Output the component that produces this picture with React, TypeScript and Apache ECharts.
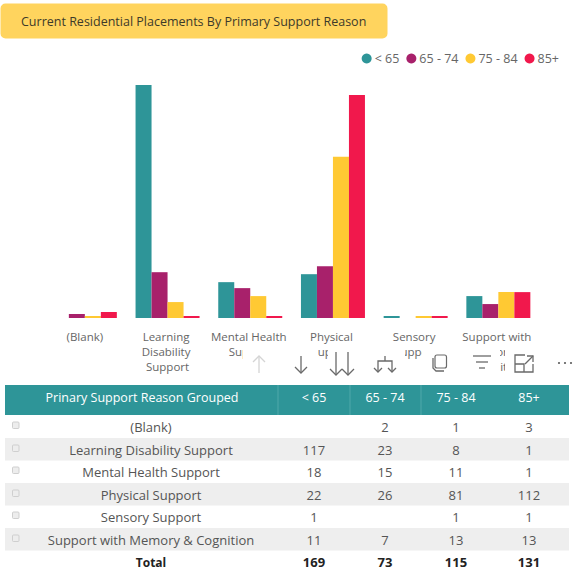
import React, { useEffect, useRef } from "react";
import * as echarts from "echarts";

const title = "Current Residential Placements By Primary Support Reason";
const tableHead = "Prinary Support Reason Grouped";
const totalLabel = "Total";
const categories = [
  "(Blank)",
  "Learning Disability Support",
  "Mental Health Support",
  "Physical Support",
  "Sensory Support",
  "Support with Memory & Cognition",
];
const ageBands = ["< 65", "65 - 74", "75 - 84", "85+"];
const under65 = [null, 117, 18, 22, 1, 11];
const age65to74 = [2, 23, 15, 26, null, 7];
const age75to84 = [1, 8, 11, 81, 1, 13];
const age85plus = [3, 1, 1, 112, 1, 13];
const totals = [169, 73, 115, 131];

const seriesValues = [under65, age65to74, age75to84, age85plus];
const colors = ["#2E9598", "#A8216B", "#FFC933", "#F1184C"];
const FONT = '"Open Sans", "Noto Sans", sans-serif';

const colCenters = [314, 385, 456, 529];
const colSeps = [278, 350, 421];
const rowTops = [415, 438, 460, 483, 505, 528];
const rowH = 22.5;

function text(str: string, x: number, y: number, size: number, fill: string, weight = "normal", align = "center") {
  return {
    type: "text",
    z: 120,
    x,
    y,
    silent: true,
    style: { text: str, textAlign: align, textVerticalAlign: "middle", font: `${weight} ${size}px ${FONT}`, fill },
  };
}
function stroke(points: number[][], color: string, width = 1.3) {
  return {
    type: "polyline",
    z: 115,
    silent: true,
    shape: { points },
    style: { stroke: color, lineWidth: width, fill: "none" },
  };
}
function downArrow(x: number, top: number, bottom: number, color: string) {
  return [
    stroke([[x, top], [x, bottom]], color),
    stroke([[x - 6, bottom - 6], [x, bottom], [x + 6, bottom - 6]], color),
  ];
}

function buildGraphics() {
  const els: any[] = [];
  // title button
  els.push({ type: "rect", z: 100, shape: { x: 0.5, y: 3.5, width: 387, height: 35, r: 5 }, style: { fill: "#FFD45E" } });
  els.push(text(title, 21, 21, 12.5, "#3D3A2A", "normal", "left"));

  // toolbar backdrops hiding the axis labels
  [[243, 318], [328, 405], [422, 500], [505, 574]].forEach(([a, b]) =>
    els.push({ type: "rect", z: 110, silent: true, shape: { x: a, y: 344, width: b - a, height: 37 }, style: { fill: "#FFFFFF" } })
  );
  const dark = "#6A6A6A";
  // up (disabled)
  els.push(stroke([[259, 356], [259, 373]], "#D4D4D4"));
  els.push(stroke([[253, 362], [259, 356], [265, 362]], "#D4D4D4"));
  // down, double down
  els.push(...downArrow(301, 356, 373, dark));
  els.push(...downArrow(336, 352, 375, dark));
  els.push(...downArrow(348, 352, 375, dark));
  // hierarchy
  els.push(stroke([[385, 356], [385, 361]], dark));
  els.push(stroke([[378, 371], [378, 361], [392, 361], [392, 371]], dark));
  els.push(stroke([[374, 368], [378, 372], [382, 368]], dark));
  els.push(stroke([[388, 368], [392, 372], [396, 368]], dark));
  // copy
  els.push({ type: "rect", z: 115, silent: true, shape: { x: 435, y: 355, width: 11.5, height: 13, r: 2 }, style: { stroke: dark, lineWidth: 1.2, fill: "none" } });
  els.push(stroke([[433, 358], [433, 368], [436, 371], [444, 371]], dark));
  // filter
  els.push(stroke([[473, 356], [491, 356]], dark));
  els.push(stroke([[476, 362], [488, 362]], dark));
  els.push(stroke([[479, 368], [485, 368]], dark));
  // focus
  els.push(stroke([[525, 355], [515, 355], [515, 372], [533, 372], [533, 364]], dark));
  els.push(stroke([[515, 364], [524, 364], [524, 372]], dark));
  els.push(stroke([[525, 364], [533, 356]], dark));
  els.push(stroke([[527, 356], [533, 356], [533, 362]], dark));
  // more
  [559, 565, 571].forEach((x) =>
    els.push({ type: "circle", z: 115, silent: true, shape: { cx: x, cy: 363, r: 1.1 }, style: { fill: dark } })
  );

  // table header
  els.push({ type: "rect", z: 100, silent: true, shape: { x: 5, y: 385, width: 564, height: 30 }, style: { fill: "#2E9598" } });
  colSeps.forEach((x) =>
    els.push({ type: "line", z: 105, silent: true, shape: { x1: x, y1: 385, x2: x, y2: 415 }, style: { stroke: "#4FA8AA", lineWidth: 1 } })
  );
  els.push(text(tableHead, 142, 397.5, 12.5, "#FFFFFF"));
  ageBands.forEach((b, i) => els.push(text(b, colCenters[i], 397.5, 12.5, "#FFFFFF")));

  // table rows
  categories.forEach((name, r) => {
    const top = rowTops[r];
    if (r % 2 === 1) {
      els.push({ type: "rect", z: 100, silent: true, shape: { x: 5, y: top, width: 564, height: rowH }, style: { fill: "#EEEEEE" } });
    }
    els.push({ type: "rect", z: 105, silent: true, shape: { x: 12.5, y: top + 7, width: 6.5, height: 6.5, r: 1 }, style: { stroke: "#CFCFCF", lineWidth: 1, fill: "#EDEDED" } });
    els.push(text(name, 151, top + 12, 13, "#555555"));
    seriesValues.forEach((vals, c) => {
      const v = vals[r];
      if (v !== null) els.push(text(String(v), colCenters[c], top + 12, 13, "#555555"));
    });
  });
  els.push(text(totalLabel, 151, 562, 12, "#222222", "bold"));
  totals.forEach((t, c) => els.push(text(String(t), colCenters[c], 562, 13, "#222222", "bold")));
  return els;
}

export default function App() {
  const ref = useRef<HTMLDivElement>(null);
  useEffect(() => {
    document.body.style.margin = "0";
    const chart = echarts.init(ref.current!, undefined, { renderer: "svg" });
    chart.setOption({
      animation: false,
      textStyle: { fontFamily: FONT },
      legend: {
        data: ageBands,
        top: 47,
        right: 10,
        icon: "circle",
        itemWidth: 10,
        itemHeight: 10,
        itemGap: 7,
        textStyle: { color: "#666666", fontSize: 12.5, fontFamily: FONT, padding: [0, 0, 0, -2] },
      },
      grid: { left: 43.5, width: 496.2, top: 85, height: 233 },
      xAxis: {
        type: "category",
        data: categories,
        axisLine: { show: false },
        axisTick: { show: false },
        axisLabel: {
          interval: 0,
          margin: 11,
          fontSize: 11.5,
          lineHeight: 15,
          color: "#666666",
          fontFamily: FONT,
          width: 80,
          overflow: "break",
        },
      },
      yAxis: { type: "value", min: 0, max: 117, show: false, splitLine: { show: false } },
      series: ageBands.map((name, i) => ({
        name,
        type: "bar",
        data: seriesValues[i],
        barWidth: 16,
        barGap: "0%",
        itemStyle: { color: colors[i] },
      })),
      graphic: buildGraphics(),
    });
    return () => chart.dispose();
  }, []);
  return <div ref={ref} style={{ position: "absolute", left: 0, top: 0, width: 574, height: 584 }} />;
}
